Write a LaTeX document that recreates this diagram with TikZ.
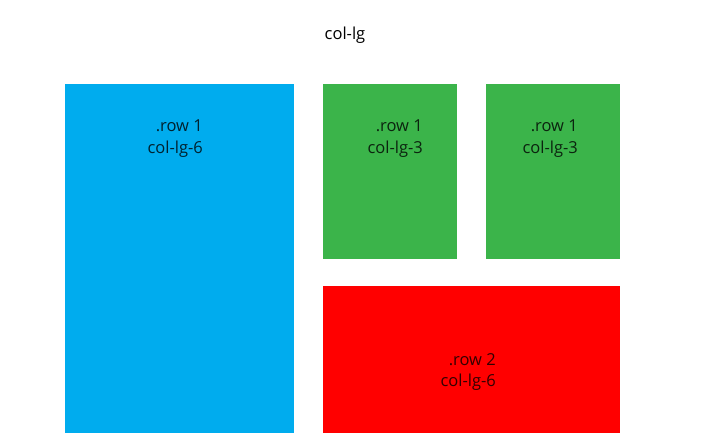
\documentclass[tikz,border=0pt]{standalone}
\usepackage{fontspec}
\setmainfont{Open Sans}
\definecolor{cblue}{RGB}{0,172,238}
\definecolor{cgreen}{RGB}{59,180,74}
\definecolor{cred}{RGB}{255,0,0}
\begin{document}
\begin{tikzpicture}[x=1pt,y=-1pt,
  lbl/.style={align=right,inner sep=0pt,anchor=north east,font=\fontsize{16.5}{21.5}\selectfont,text opacity=0.8}]
\useasboundingbox (0,0) rectangle (720,445);
\fill[white] (0,0) rectangle (720,445);
\node[font=\fontsize{16.5}{22}\selectfont] (title) at (345,35) {col-lg};
\fill[cblue] (65,84) rectangle (294,433);
\fill[cgreen] (323,84) rectangle (457,259);
\fill[cgreen] (486,84) rectangle (620,259);
\fill[cred] (323,286) rectangle (620,433);
\node[lbl] (t1) at (203,120) {.row 1\\col-lg-6};
\node[lbl] (t2) at (423,120) {.row 1\\col-lg-3};
\node[lbl] (t3) at (578,120) {.row 1\\col-lg-3};
\node[lbl] (t4) at (496,353) {.row 2\\col-lg-6};
\end{tikzpicture}
\end{document}
